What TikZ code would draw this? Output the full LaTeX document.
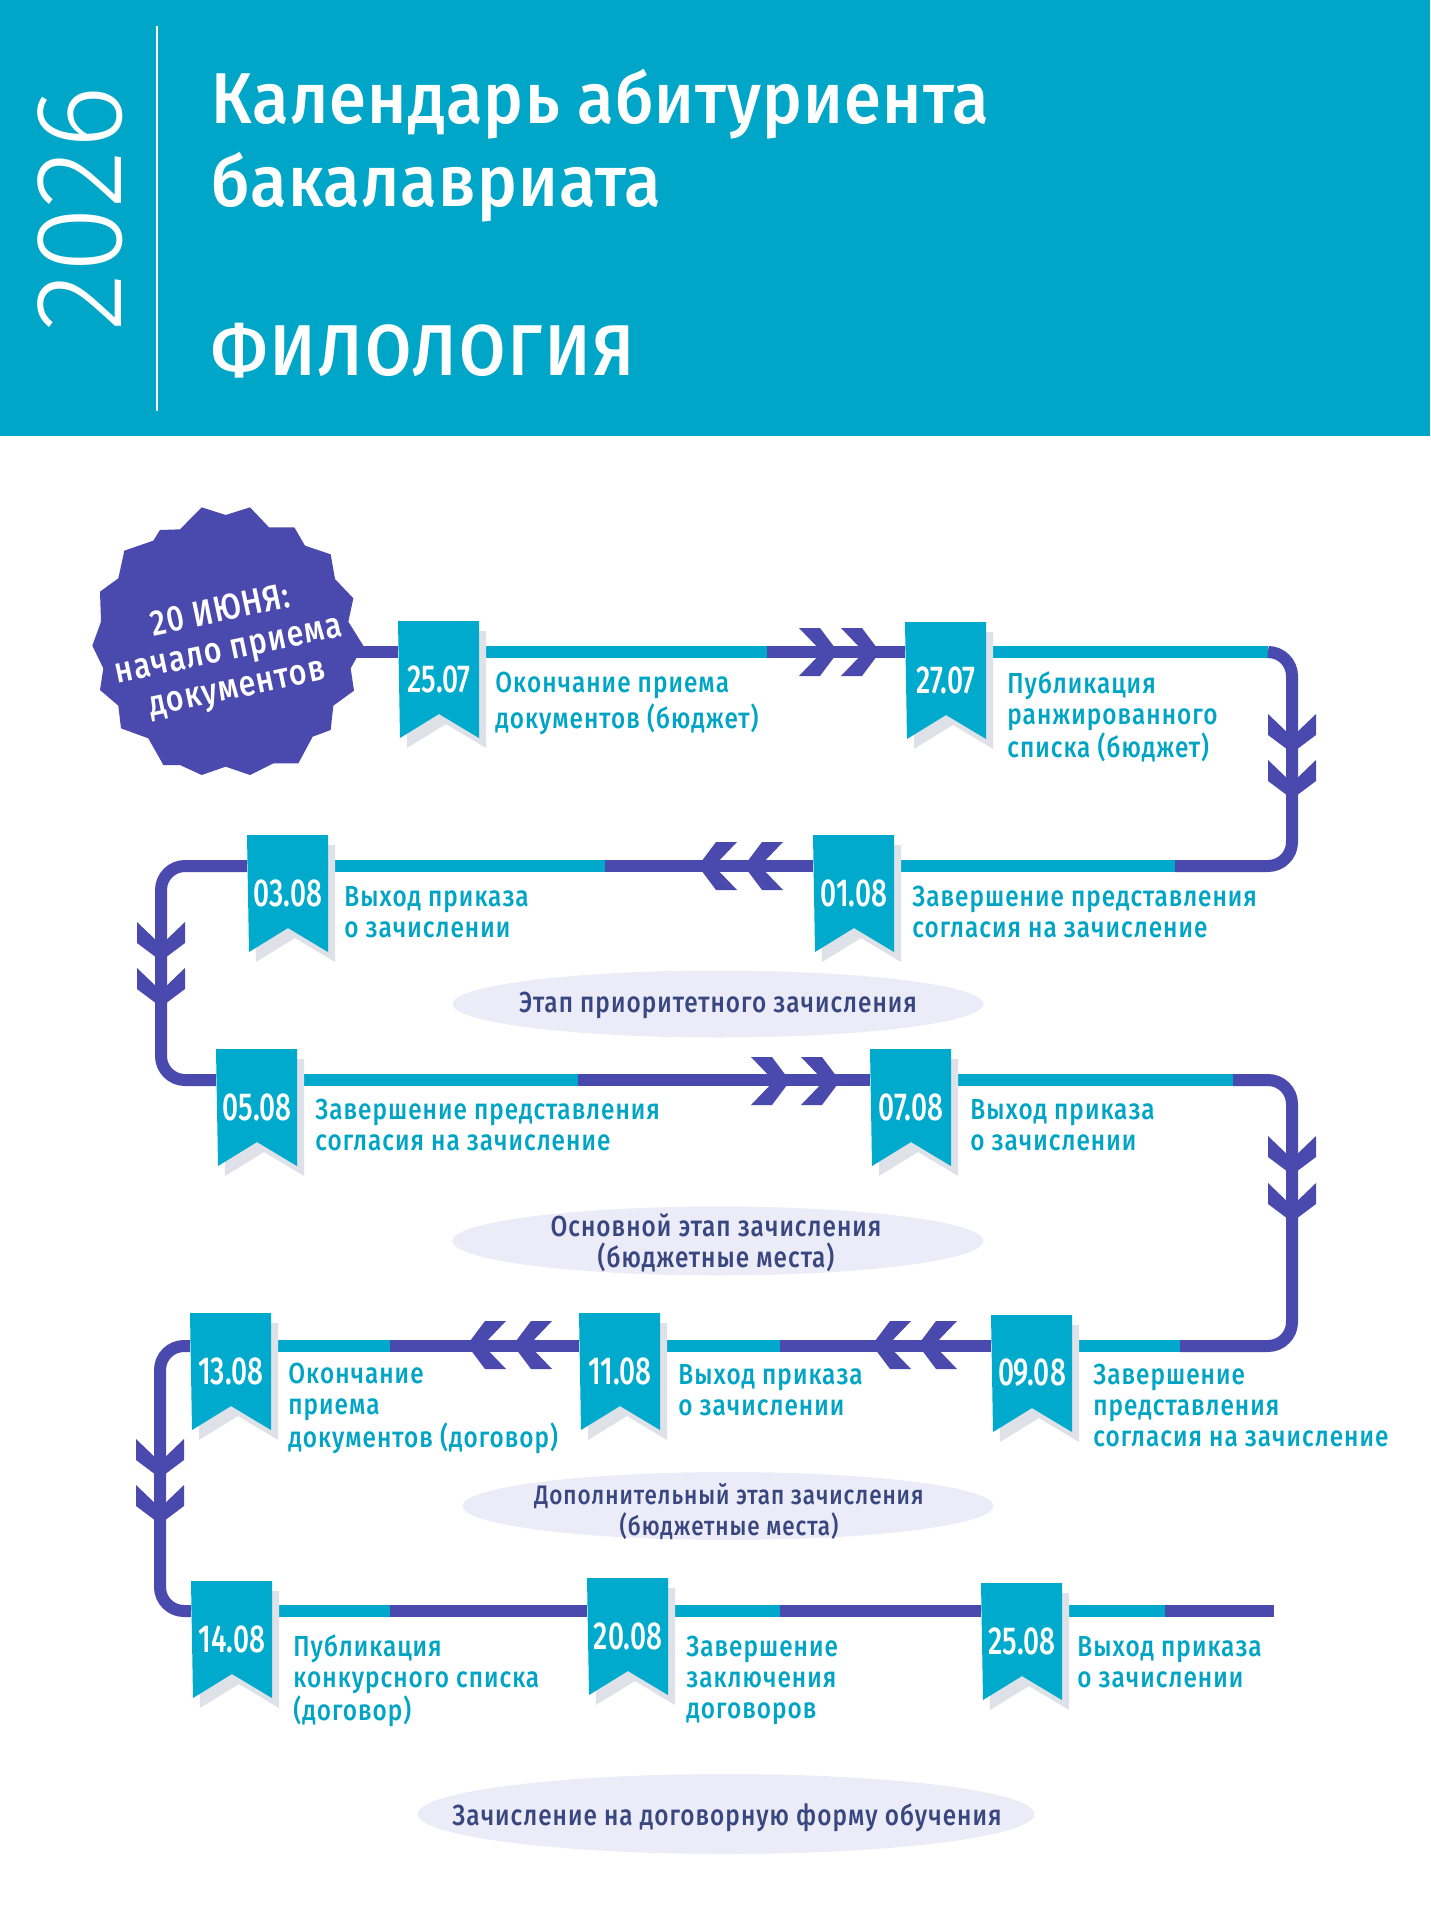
\documentclass[tikz,border=0pt]{standalone}
\usepackage{fontspec}
\usetikzlibrary{backgrounds,shapes.geometric}
\setmainfont{Fira Sans}
\newfontfamily\dinlab{Fira Sans Medium}[FakeStretch=0.84,LetterSpace=3.5]
\newfontfamily\dindate{Fira Sans Medium}[FakeStretch=0.72]
\newfontfamily\dintitle{Fira Sans Medium}[FakeStretch=0.93,LetterSpace=1.5]
\newfontfamily\dintitlecaps{Fira Sans Medium}[FakeStretch=0.93,LetterSpace=4]
\newfontfamily\dinyear{Fira Sans Light}[FakeStretch=0.98]
\definecolor{hdr}{HTML}{00A6C8}
\definecolor{rib}{HTML}{00AACC}
\definecolor{cyanline}{HTML}{00A8CC}
\definecolor{purp}{HTML}{4A49AE}
\definecolor{labc}{HTML}{00A5C5}
\definecolor{ribsh}{HTML}{DFE1E8}
\definecolor{ell}{HTML}{ECECF8}
\definecolor{elltxt}{HTML}{38477F}
\tikzset{
  seg/.style={line width=6pt,line cap=butt,rounded corners=12pt},
  segc/.style={seg,draw=cyanline},
  segp/.style={seg,draw=purp},
  datenode/.style={inner sep=0,minimum width=40.5pt,minimum height=58.5pt,text=white,font=\dindate\fontsize{19.5}{20}\selectfont},
  lab/.style={anchor=north west,inner sep=0,align=left,text=labc,font=\dinlab\fontsize{14.5}{15.5}\selectfont},
  elli/.style={ellipse,fill=ell,inner sep=0},
  ellitext/.style={inner sep=0,align=center,text=elltxt,font=\dinlab\fontsize{14.5}{15.5}\selectfont},
  title/.style={anchor=base west,inner sep=0,text=white,font=\dintitle\fontsize{36}{40}\selectfont},
}
% #1 name, #2 x, #3 top, #4 date
\newcommand{\ribbonat}[4]{%
  \fill[ribsh] ({#2+7},{#3+10}) -- ({#2+88},{#3+10}) -- ({#2+88},{#3+127}) -- ({#2+48},{#3+103}) -- ({#2+9},{#3+127}) -- cycle;
  \fill[rib] (#2,#3) -- ({#2+81},#3) -- ({#2+81},{#3+117}) -- ({#2+41},{#3+93}) -- ({#2+2},{#3+117}) -- cycle;
  \node[datenode] (#1) at ({#2+41},{#3+58}) {#4};
}
% #1 name, #2 x, #3 first baseline, #4 text
\newcommand{\labat}[4]{\node[lab] (#1) at (#2,{#3-21.2}) {\strut #4};}
\newcommand{\chevD}[2]{\fill[purp] (#1,#2) -- ({#1+24},{#2-18}) -- ({#1+24},{#2-39}) -- (#1,{#2-16}) -- ({#1-24},{#2-39}) -- ({#1-24},{#2-18}) -- cycle;}
\newcommand{\chevR}[2]{\fill[purp] (#1,#2) -- ({#1-18},{#2+24}) -- ({#1-39},{#2+24}) -- ({#1-16},#2) -- ({#1-39},{#2-24}) -- ({#1-18},{#2-24}) -- cycle;}
\newcommand{\chevL}[2]{\fill[purp] (#1,#2) -- ({#1+18},{#2+24}) -- ({#1+39},{#2+24}) -- ({#1+16},#2) -- ({#1+39},{#2-24}) -- ({#1+18},{#2-24}) -- cycle;}
\begin{document}
\begin{tikzpicture}[x=0.5pt,y=-0.5pt]
\useasboundingbox (0,0) rectangle (1430,1920);
% header
\fill[hdr] (0,0) rectangle (1430,436);
\draw[white,line width=0.8pt] (157,26) -- (157,411);
\node[rotate=90,inner sep=0,text=white,font=\dinyear\fontsize{62}{64}\selectfont] (year) at (80,209) {2026};
\node[title] (t1) at (211,124) {Календарь абитуриента};
\node[title] (t2) at (211,207) {бакалавриата};
\node[title,font=\dintitlecaps\fontsize{36}{40}\selectfont] (t3) at (211,375) {ФИЛОЛОГИЯ};
% named guides
\coordinate (row1) at (0,652); \coordinate (row2) at (0,866); \coordinate (row3) at (0,1080);
\coordinate (row4) at (0,1346); \coordinate (row5) at (0,1611);
\coordinate (colR) at (1292,0); \coordinate (colA) at (161,0); \coordinate (colB) at (160,0);
\coordinate (s1) at (767,652); \coordinate (s2) at (1268,652); \coordinate (s3) at (1175,866);
\coordinate (s4) at (605,866); \coordinate (s5) at (578,1080); \coordinate (s6) at (1233,1080);
\coordinate (s7) at (1180,1346); \coordinate (s8) at (780,1346); \coordinate (s9) at (390,1346);
\coordinate (s10) at (390,1611); \coordinate (s11) at (780,1611); \coordinate (s12) at (1165,1611);
\coordinate (endline) at (1274,1611);
% ellipses
\node[elli,minimum width=265.5pt,minimum height=33.5pt] (e1) at (718,1004) {};
\node[elli,minimum width=265.5pt,minimum height=34.5pt] (e2) at (718,1241) {};
\node[elli,minimum width=265.5pt,minimum height=34pt] (e3) at (728,1506) {};
\node[elli,minimum width=308.5pt,minimum height=40pt] (e4) at (726,1814) {};
\node[ellitext] (e1t) at (718,1005) {Этап приоритетного зачисления};
\node[ellitext] (e2t) at (716,1243) {Основной этап зачисления\\(бюджетные места)};
\node[ellitext,font=\dinlab\fontsize{13.4}{15.5}\selectfont] (e3t) at (729,1512) {Дополнительный этап зачисления\\(бюджетные места)};
\node[ellitext] (e4t) at (727,1818) {Зачисление на договорную форму обучения};
% badge
\coordinate (badge) at (228,652);
\fill[purp,shift={(85,500)},x=0.16667pt,y=-0.16667pt]
 (350,22) -- (422,45) -- (495,22) -- (552,82) -- (628,82) -- (660,137) -- (737,163) -- (750,237) -- (805,295) -- (790,365) -- (835,437) -- (797,505) -- (807,572) -- (745,617) -- (737,690) -- (683,710) -- (640,790) -- (565,790) -- (495,825) -- (422,800) -- (350,825) -- (285,795) -- (235,795) -- (190,715) -- (108,685) -- (100,617) -- (45,570) -- (55,505) -- (22,437) -- (48,365) -- (45,275) -- (100,235) -- (118,152) -- (205,122) -- (225,90) -- (285,88) -- cycle;
\node[rotate=12,inner sep=0,align=center,text=white,font=\dinlab\fontsize{18}{19.5}\selectfont] (badget) at (229,651) {20 ИЮНЯ:\\начало приема\\документов};
% ribbons
\ribbonat{r2507}{398}{621}{25.07}
\ribbonat{r2707}{905}{622}{27.07}
\ribbonat{r0308}{247}{835}{03.08}
\ribbonat{r0108}{813}{835}{01.08}
\ribbonat{r0508}{216}{1049}{05.08}
\ribbonat{r0708}{870}{1049}{07.08}
\ribbonat{r1308}{190}{1313}{13.08}
\ribbonat{r1108}{579}{1313}{11.08}
\ribbonat{r0908}{991}{1315}{09.08}
\ribbonat{r1408}{191}{1581}{14.08}
\ribbonat{r2008}{587}{1578}{20.08}
\ribbonat{r2508}{981}{1583}{25.08}
% labels
\labat{l2507}{495}{692}{Окончание приема\\документов (бюджет)}
\labat{l2707}{1007}{692}{Публикация\\ранжированного\\списка (бюджет)}
\labat{l0308}{344}{906}{Выход приказа\\о зачислении}
\labat{l0108}{912}{906}{Завершение представления\\согласия на зачисление}
\labat{l0508}{315}{1119}{Завершение представления\\согласия на зачисление}
\labat{l0708}{970}{1119}{Выход приказа\\о зачислении}
\labat{l1308}{288}{1383}{Окончание\\приема\\документов (договор)}
\labat{l1108}{678}{1384}{Выход приказа\\о зачислении}
\labat{l0908}{1093}{1384}{Завершение\\представления\\согласия на зачисление}
\labat{l1408}{293}{1655}{Публикация\\конкурсного списка\\(договор)}
\labat{l2008}{686}{1656}{Завершение\\заключения\\договоров}
\labat{l2508}{1077}{1656}{Выход приказа\\о зачислении}
% connectors under everything
\begin{scope}[on background layer]
\draw[segp] (badge |- row1) -- (r2507.west |- row1);
\draw[segc] (r2507.east |- row1) -- (s1);
\draw[segp] (s1) -- (r2707.west |- row1);
\draw[segc] (r2707.east |- row1) -- (s2);
\draw[segp] (s2) -- (colR |- row1) -- (colR |- row2) -- (s3);
\draw[segc] (s3) -- (r0108.east |- row2);
\draw[segp] (r0108.west |- row2) -- (s4);
\draw[segc] (s4) -- (r0308.east |- row2);
\draw[segp] (r0308.west |- row2) -- (colA |- row2) -- (colA |- row3) -- (r0508.west |- row3);
\draw[segc] (r0508.east |- row3) -- (s5);
\draw[segp] (s5) -- (r0708.west |- row3);
\draw[segc] (r0708.east |- row3) -- (s6);
\draw[segp] (s6) -- (colR |- row3) -- (colR |- row4) -- (s7);
\draw[segc] (s7) -- (r0908.east |- row4);
\draw[segp] (r0908.west |- row4) -- (s8);
\draw[segc] (s8) -- (r1108.east |- row4);
\draw[segp] (r1108.west |- row4) -- (s9);
\draw[segc] (s9) -- (r1308.east |- row4);
\draw[segp] (r1308.west |- row4) -- (colB |- row4) -- (colB |- row5) -- (r1408.west |- row5);
\draw[segc] (r1408.east |- row5) -- (s10);
\draw[segp] (s10) -- (r2008.west |- row5);
\draw[segc] (r2008.east |- row5) -- (s11);
\draw[segp] (s11) -- (r2508.west |- row5);
\draw[segc] (r2508.east |- row5) -- (s12);
\draw[segp] (s12) -- (endline);
\end{scope}
% arrowheads
\chevR{838}{652}\chevR{880}{652}
\chevD{1292}{753}\chevD{1292}{799}
\chevL{698}{866}\chevL{744}{866}
\chevD{161}{961}\chevD{161}{1007}
\chevR{790}{1081}\chevR{840}{1081}
\chevD{1292}{1175}\chevD{1292}{1222}
\chevL{872}{1345}\chevL{918}{1345}
\chevL{467}{1345}\chevL{513}{1345}
\chevD{160}{1478}\chevD{160}{1524}
\end{tikzpicture}
\end{document}
